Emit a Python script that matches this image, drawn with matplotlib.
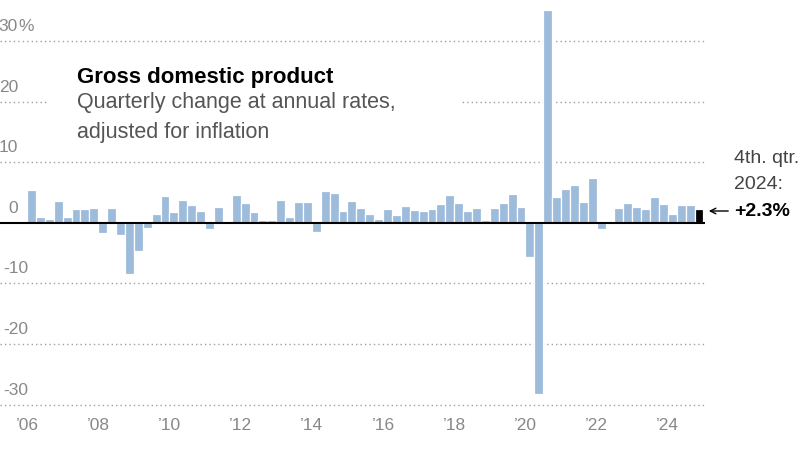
import matplotlib
matplotlib.use("Agg")
import matplotlib.pyplot as plt
from matplotlib.patches import Rectangle

plt.rcParams['font.family'] = ['Liberation Sans', 'DejaVu Sans']

# quarterly real GDP change, annual rate, 2006 Q1 .. 2024 Q4
gdp_2006_2012 = [5.4, 0.9, 0.6, 3.5, 1.0, 2.3, 2.2, 2.4,
                 -1.7, 2.4, -2.1, -8.5, -4.6, -0.8, 1.4, 4.4,
                 1.8, 3.8, 3.0, 2.0, -1.0, 2.6, -0.1, 4.6,
                 3.3, 1.7, 0.5, 0.4]
gdp_2013_2019 = [3.8, 1.0, 3.4, 3.4, -1.5, 5.2, 4.9, 1.9,
                 3.5, 2.4, 1.5, 0.6, 2.2, 1.2, 2.8, 2.1,
                 1.9, 2.2, 3.1, 4.6, 3.3, 2.0, 2.4, 0.5,
                 2.4, 3.3, 4.7, 2.6]
gdp_2020_2024 = [-5.6, -28.2, 35.1, 4.3, 5.5, 6.3, 3.4, 7.3,
                 -1.1, 0.3, 2.5, 3.3, 2.6, 2.3, 4.2, 3.1,
                 1.5, 2.9, 3.0, 2.3]
gdp = gdp_2006_2012 + gdp_2013_2019 + gdp_2020_2024

years = list(range(2006, 2025, 2))
year_labels = ["\u2019%02d" % (y % 100) for y in years]
y_ticks = [30, 20, 10, 0, -10, -20, -30]
y_labels = ["30", "20", "10", "0", "-10", "-20", "-30"]

bar_color = "#9dbbda"
grid_color = "#a0a0a0"
label_gray = "#888888"

fig = plt.figure(figsize=(8, 4.5), dpi=100)
ax = fig.add_axes([0, 0, 1, 1])
ax.set_axis_off()

# pixel layout: first bar left edge at 27px, 8.9px per quarter, 0% at 222.7px, 6.06px per point
px_per_q = 8.9
x0_px = 27
zero_px = 222.7
px_per_pt = 6.06
ax.set_xlim(-x0_px / px_per_q - 0.5, (800 - x0_px) / px_per_q - 0.5)
ax.set_ylim((zero_px - 450) / px_per_pt, zero_px / px_per_pt)


def px_x(px):
    return (px - x0_px) / px_per_q - 0.5


def px_y(px):
    return (zero_px - px) / px_per_pt


n = len(gdp)
idx = list(range(n))
grid_end = n - 0.3

# gridlines
nonzero = [t for t in y_ticks if t != 0]
ax.hlines(nonzero, px_x(0), grid_end, colors=grid_color, linewidth=1,
          linestyles=(0, (1, 2.2)), zorder=1)

# white box behind the title, hides part of the 20% line
ax.add_patch(Rectangle((px_x(47), px_y(150)), px_x(460) - px_x(47), px_y(52) - px_y(150),
                       facecolor="white", edgecolor="none", zorder=2))

colors = [bar_color] * (n - 1) + ["black"]
ax.bar(idx, gdp, width=1.0, color=colors, edgecolor="white", linewidth=0.9, zorder=3)
ax.hlines(0, px_x(0), grid_end, colors="black", linewidth=1.5, zorder=4)

# y labels (negative ones nudged right so the minus sign stays on the canvas)
for t, lab in zip(y_ticks, y_labels):
    right = 18 if t >= 0 else 28
    ax.annotate(lab, xy=(px_x(right), t), xytext=(0, 5), textcoords="offset points",
                ha="right", va="bottom", fontsize=12.5, color=label_gray)
ax.annotate("%", xy=(px_x(18.5), 30), xytext=(0, 5), textcoords="offset points",
            ha="left", va="bottom", fontsize=12.5, color=label_gray)

# x labels at start of each year
for y, lab in zip(years, year_labels):
    ax.text((y - 2006) * 4 - 0.5, px_y(425), lab, ha="center", va="center",
            fontsize=12.5, color=label_gray)

# title
ax.text(px_x(77), px_y(83), "Gross domestic product", fontsize=16,
        fontweight="bold", color="black", ha="left", va="baseline", zorder=5)
ax.text(px_x(77), px_y(108), "Quarterly change at annual rates,",
        fontsize=15.5, color="#555555", ha="left", va="baseline", zorder=5)
ax.text(px_x(77), px_y(138), "adjusted for inflation",
        fontsize=15.5, color="#555555", ha="left", va="baseline", zorder=5)

# annotation for last quarter
ax.text(px_x(734), px_y(163), "4th. qtr.", fontsize=14, color="#444444",
        ha="left", va="baseline")
ax.text(px_x(734), px_y(189), "2024:", fontsize=14, color="#444444",
        ha="left", va="baseline")
ax.text(px_x(734), px_y(216), "+2.3%", fontsize=14, fontweight="bold",
        color="black", ha="left", va="baseline")
ax.annotate("", xy=(px_x(706), px_y(211)), xytext=(px_x(731), px_y(211)),
            arrowprops=dict(arrowstyle="->", lw=1, color="black"))

fig.savefig("out.png", dpi=100)
